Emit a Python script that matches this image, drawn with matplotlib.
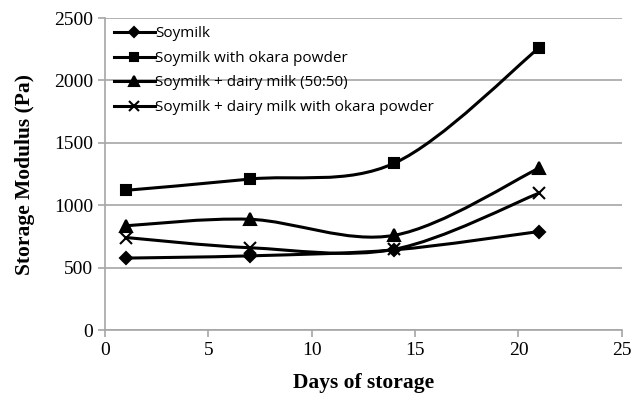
import numpy as np
import matplotlib
matplotlib.use("Agg")
from matplotlib import pyplot as plt
from matplotlib.path import Path
from matplotlib.patches import PathPatch
from matplotlib.lines import Line2D

days = [1, 7, 14, 21]
soymilk = [577, 595, 643, 790]
soymilkOkara = [1120, 1210, 1338, 2262]
soymilkDairy = [836, 888, 760, 1298]
soymilkDairyOkara = [742, 660, 648, 1098]

seriesNames = ["Soymilk", "Soymilk with okara powder",
               "Soymilk + dairy milk (50:50)",
               "Soymilk + dairy milk with okara powder"]
seriesValues = [soymilk, soymilkOkara, soymilkDairy, soymilkDairyOkara]
markers = ["D", "s", "^", "x"]
markerSizes = [6, 7, 8, 8]


def smoothPath(x, y):
    # bezier segments like the spreadsheet "smoothed line" option
    x = np.asarray(x, dtype=float)
    y = np.asarray(y, dtype=float)
    n = len(x)
    verts = [(x[0], y[0])]
    codes = [Path.MOVETO]
    for i in range(n - 1):
        p0 = np.array([x[max(i - 1, 0)], y[max(i - 1, 0)]])
        p1 = np.array([x[i], y[i]])
        p2 = np.array([x[i + 1], y[i + 1]])
        p3 = np.array([x[min(i + 2, n - 1)], y[min(i + 2, n - 1)]])
        c1 = p1 + (p2 - p0) / 6.0
        c2 = p2 - (p3 - p1) / 6.0
        verts += [tuple(c1), tuple(c2), tuple(p2)]
        codes += [Path.CURVE4, Path.CURVE4, Path.CURVE4]
    return Path(verts, codes)


fig = plt.figure(figsize=(6.41, 3.93), dpi=100)
ax = fig.add_axes([0.164, 0.160, 0.806, 0.794])

handles = []
for name, vals, m, ms in zip(seriesNames, seriesValues, markers, markerSizes):
    patch = PathPatch(smoothPath(days, vals), facecolor="none",
                      edgecolor="black", lw=2.2, zorder=3)
    ax.add_patch(patch)
    ax.plot(days, vals, linestyle="none", marker=m, color="black",
            markersize=ms, mew=1.5, zorder=4)
    handles.append(Line2D([], [], color="black", lw=2.2, marker=m,
                          markersize=ms - 1, mew=1.5))

ax.set_xlim(0, 25)
ax.set_ylim(0, 2500)
ax.set_xticks([0, 5, 10, 15, 20, 25])
ax.set_yticks([0, 500, 1000, 1500, 2000, 2500])
ax.yaxis.grid(True, color="#a6a6a6", lw=1.2)
ax.set_axisbelow(True)
for s in ["top", "right"]:
    ax.spines[s].set_visible(False)
for s in ["left", "bottom"]:
    ax.spines[s].set_color("#a6a6a6")
    ax.spines[s].set_linewidth(1.2)
ax.tick_params(axis="both", colors="#a6a6a6", length=5, width=1.2,
               labelcolor="black", labelsize=14)
for lab in ax.get_xticklabels() + ax.get_yticklabels():
    lab.set_fontfamily("Liberation Serif")

ax.set_xlabel("Days of storage", fontfamily="Liberation Serif",
              fontweight="bold", fontsize=15.5, labelpad=10)
ax.set_ylabel("Storage Modulus (Pa)", fontfamily="Liberation Serif",
              fontweight="bold", fontsize=15.5, labelpad=14)

leg = ax.legend(handles, seriesNames, loc="upper left", frameon=False,
                prop={"family": "Open Sans", "size": 11.0},
                handlelength=2.7, handletextpad=0.0, labelspacing=0.62,
                borderaxespad=0.15, bbox_to_anchor=(0.0, 1.0))

fig.savefig("out.png", dpi=100)
